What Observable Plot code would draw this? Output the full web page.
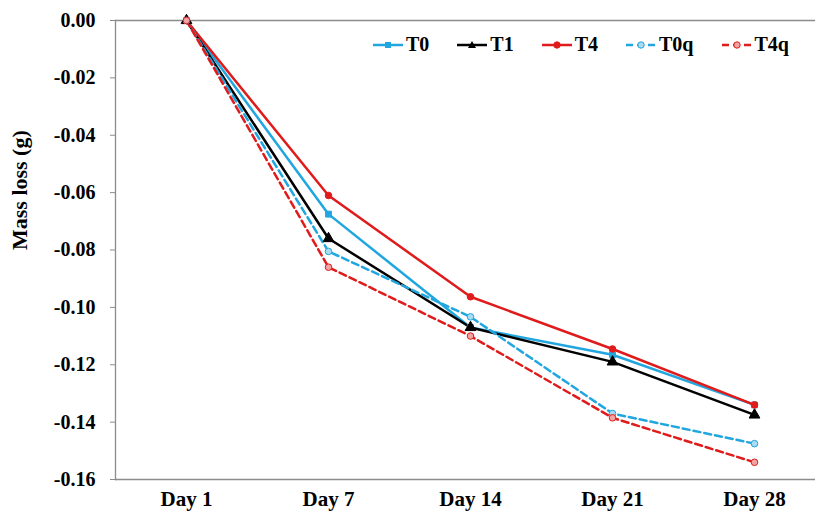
<!DOCTYPE html>
<html><head><meta charset="utf-8">
<script src="https://cdn.jsdelivr.net/npm/d3@7"></script>
<script src="https://cdn.jsdelivr.net/npm/@observablehq/plot@0.6"></script>
<style>
body{margin:0;background:#fff}
#wrap{position:relative;width:815px;height:517px;font-family:"Liberation Serif",serif;font-weight:bold;overflow:hidden}
#legend{position:absolute;left:373px;top:33px;display:flex;align-items:center;gap:28px;font-size:20px;color:#000}
#legend .it{display:flex;align-items:center}
#legend svg{margin-right:3px}
</style>
</head><body><div id="wrap"></div>
<script>
const days = ["Day 1","Day 7","Day 14","Day 21","Day 28"];
const seriesNames = ["T0","T1","T4","T0q","T4q"];
const seriesColors = ["#21a6df","#000000","#e01b1b","#21a6df","#e01b1b"];
const seriesDash = [null,null,null,"7,4","7,4"];
const seriesSymbols = ["square","triangle","circle","circle","circle"];
const seriesFill = ["#21a6df","#000000","#e01b1b","#a9dcf2","#f2a3a3"];
const T0  = [0,-0.0675,-0.107,-0.1165,-0.134];
const T1  = [0,-0.076,-0.107,-0.119,-0.1375];
const T4  = [0,-0.061,-0.0963,-0.1145,-0.134];
const T0q = [0,-0.0805,-0.1033,-0.137,-0.1475];
const T4q = [0,-0.086,-0.110,-0.1385,-0.154];
const seriesValues = [T0,T1,T4,T0q,T4q];
const yTicks = [0,-0.02,-0.04,-0.06,-0.08,-0.10,-0.12,-0.14,-0.16];
const yTickLabels = ["0.00","-0.02","-0.04","-0.06","-0.08","-0.10","-0.12","-0.14","-0.16"];
const yTitle = "Mass loss (g)";

const rows = seriesNames.flatMap((s,si)=>days.map((d,di)=>({series:s, si, day:d, value:seriesValues[si][di]})));

const marks = [];
seriesNames.forEach((s,si)=>{
  const data = rows.filter(r=>r.si===si);
  marks.push(Plot.line(data,{x:"day",y:"value",stroke:seriesColors[si],strokeWidth:2.5,strokeDasharray:seriesDash[si]||undefined}));
});
seriesNames.forEach((s,si)=>{
  const data = rows.filter(r=>r.si===si);
  marks.push(Plot.dot(data,{x:"day",y:"value",symbol:()=>seriesSymbols[si],r:si===1?4:3.3,fill:seriesFill[si],stroke:seriesColors[si],strokeWidth:1}));
});

const chart = Plot.plot({
  width:815,height:517,marginLeft:115,marginRight:0,marginTop:20,marginBottom:38,
  style:{fontFamily:"Liberation Serif",fontWeight:"bold",fontSize:"20px",color:"#000",background:"#fff"},
  x:{type:"point",domain:days,range:[185,755],padding:0},
  y:{domain:[-0.16,0]},
  symbol:{type:"identity"},
  marks:[
    Plot.frame({anchor:"left",stroke:"#8c8c8c",strokeWidth:1.3}),
    Plot.frame({anchor:"top",stroke:"#8c8c8c",strokeWidth:1.3}),
    Plot.frame({anchor:"bottom",stroke:"#8c8c8c",strokeWidth:1.3}),
    Plot.axisY({ticks:yTicks,tickFormat:d=>yTickLabels[yTicks.indexOf(d)],tickSize:5,tickPadding:15,stroke:"#8c8c8c",label:null,fontSize:20}),
    Plot.axisX({tickSize:0,tickPadding:12,label:null,fontSize:21}),
    Plot.text([yTitle],{frameAnchor:"left",dx:-96,rotate:-90,fontSize:22,fontWeight:"bold",fill:"#000"}),
    ...marks
  ]
});
const wrap = document.getElementById("wrap");
wrap.appendChild(chart);

const legend = document.createElement("div");
legend.id = "legend";
seriesNames.forEach((s,si)=>{
  const it = document.createElement("div");
  it.className="it";
  const c = seriesColors[si];
  let mk;
  if (seriesSymbols[si]==="square") mk = `<rect x="12" y="3" width="6" height="6" fill="${c}"/>`;
  else if (seriesSymbols[si]==="triangle") mk = `<path d="M15,2 L19,9 L11,9 Z" fill="${c}"/>`;
  else mk = `<circle cx="15" cy="6" r="3.2" fill="${seriesFill[si]}" stroke="${c}" stroke-width="1"/>`;
  it.innerHTML = `<svg width="30" height="12"><line x1="0" x2="30" y1="6" y2="6" stroke="${c}" stroke-width="2.5" ${seriesDash[si]?`stroke-dasharray="${seriesDash[si]}"`:""}/>${mk}</svg><span>${s}</span>`;
  legend.appendChild(it);
});
wrap.appendChild(legend);
</script>
</body></html>
